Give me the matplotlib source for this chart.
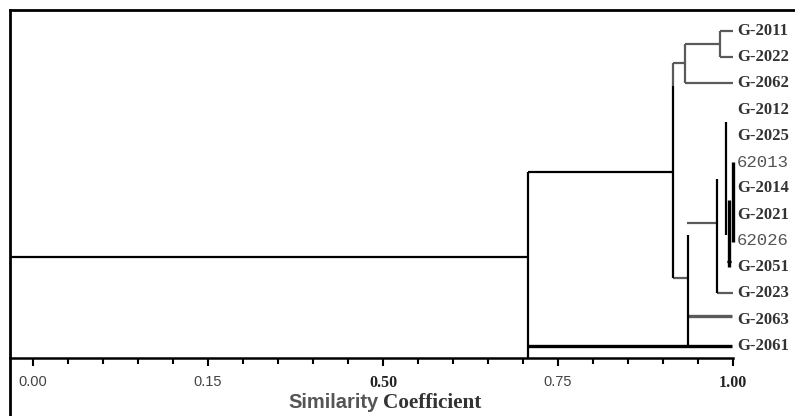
import matplotlib
matplotlib.use('Agg')
import matplotlib.pyplot as plt
from matplotlib.ticker import FixedLocator

# leaf labels, top to bottom
leaves = ["G-2011", "G-2022", "G-2062", "G-2012", "G-2025", "62013", "G-2014",
          "G-2021", "62026", "G-2051", "G-2023", "G-2063", "G-2061"]
mono_leaves = ["62013", "62026"]

# horizontal links: (similarity from, similarity to, leaf row)
black_links = [(-0.033, 0.707, 8.61), (0.707, 0.914, 5.37)]
thick_links = [(0.707, 0.999, 12.0)]
gray_links = [(0.914, 0.931, 1.22), (0.931, 0.981, 0.50), (0.931, 1.0, 1.98),
              (0.981, 1.0, 0.0), (0.981, 1.0, 0.99), (0.914, 0.936, 9.41),
              (0.934, 0.977, 7.31), (0.977, 1.0, 9.98), (0.991, 0.998, 8.8)]
gray_thick_links = [(0.936, 0.999, 10.85)]

# vertical joins: (similarity, row from, row to)
black_joins = [(0.707, 5.37, 12.46), (0.914, 2.1, 9.41), (0.936, 7.77, 12.0),
               (0.977, 5.64, 9.98), (0.990, 3.47, 7.77)]
thick_joins = [(0.994, 6.44, 8.99), (1.0, 4.99, 8.04)]
gray_joins = [(0.914, 1.22, 2.1), (0.931, 0.50, 1.98), (0.981, 0.0, 0.99)]

tick_pos = [0.0, 0.25, 0.5, 0.75, 1.0]
tick_text = ["0.00", "0.15", "0.50", "0.75", "1.00"]

fig = plt.figure(figsize=(7.95, 4.16), dpi=100)
ax = fig.add_axes([10 / 795, 0, 785 / 795, 406 / 416])
ax.set_xlim(-0.0329, 1.0886)
ax.set_ylim(14.667, -0.8)

gray = "#5a5a5a"
lw, lw_thick = 1.6, 2.4
for x0, x1, y in black_links:
    ax.plot([x0, x1], [y, y], color="black", lw=lw, solid_capstyle="butt")
for x0, x1, y in thick_links:
    ax.plot([x0, x1], [y, y], color="black", lw=lw_thick, solid_capstyle="butt")
for x0, x1, y in gray_links:
    ax.plot([x0, x1], [y, y], color=gray, lw=lw, solid_capstyle="butt")
for x0, x1, y in gray_thick_links:
    ax.plot([x0, x1], [y, y], color=gray, lw=lw_thick, solid_capstyle="butt")
for x, y0, y1 in black_joins:
    ax.plot([x, x], [y0, y1], color="black", lw=lw, solid_capstyle="butt")
for x, y0, y1 in thick_joins:
    ax.plot([x, x], [y0, y1], color="black", lw=lw_thick, solid_capstyle="butt")
for x, y0, y1 in gray_joins:
    ax.plot([x, x], [y0, y1], color=gray, lw=lw, solid_capstyle="butt")

for i, name in enumerate(leaves):
    if name in mono_leaves:
        ax.text(1.006, i, name, va="center", ha="left", fontsize=12.5,
                family="Liberation Mono", color="#555555")
    else:
        ax.text(1.006, i, name, va="center", ha="left", fontsize=12,
                family="Liberation Serif", weight="bold", color="#333333")

# spines
ax.spines["right"].set_visible(False)
ax.spines["top"].set_linewidth(2)
ax.spines["left"].set_linewidth(2)
ax.spines["bottom"].set_linewidth(1.8)
ax.spines["bottom"].set_position(("data", 12.46))
ax.spines["bottom"].set_bounds(-0.0329, 1.0)

ax.yaxis.set_visible(False)
ax.xaxis.set_major_locator(FixedLocator(tick_pos))
ax.xaxis.set_minor_locator(FixedLocator([i * 0.05 for i in range(21)]))
ax.set_xticklabels(tick_text)
ax.tick_params(axis="x", which="major", direction="out", length=6, width=1.5, pad=6)
ax.tick_params(axis="x", which="minor", direction="out", length=4, width=1.5)

for lbl in ax.get_xticklabels():
    if lbl.get_text() in ("0.50", "1.00"):
        lbl.set_family("Liberation Serif")
        lbl.set_weight("bold")
        lbl.set_color("#222222")
        lbl.set_fontsize(11.5)
    else:
        lbl.set_family("Liberation Sans")
        lbl.set_color("#444444")
        lbl.set_fontsize(10.5)

fig.text(288 / 795, 1 - 403 / 416, "Similarity", family="Liberation Sans",
         weight="bold", fontsize=14.5, color="#555555", va="center", ha="left")
fig.text(383 / 795, 1 - 403 / 416, "Coefficient", family="Liberation Serif",
         weight="bold", fontsize=15.3, color="#333333", va="center", ha="left")

plt.savefig("out.png", dpi=100)
